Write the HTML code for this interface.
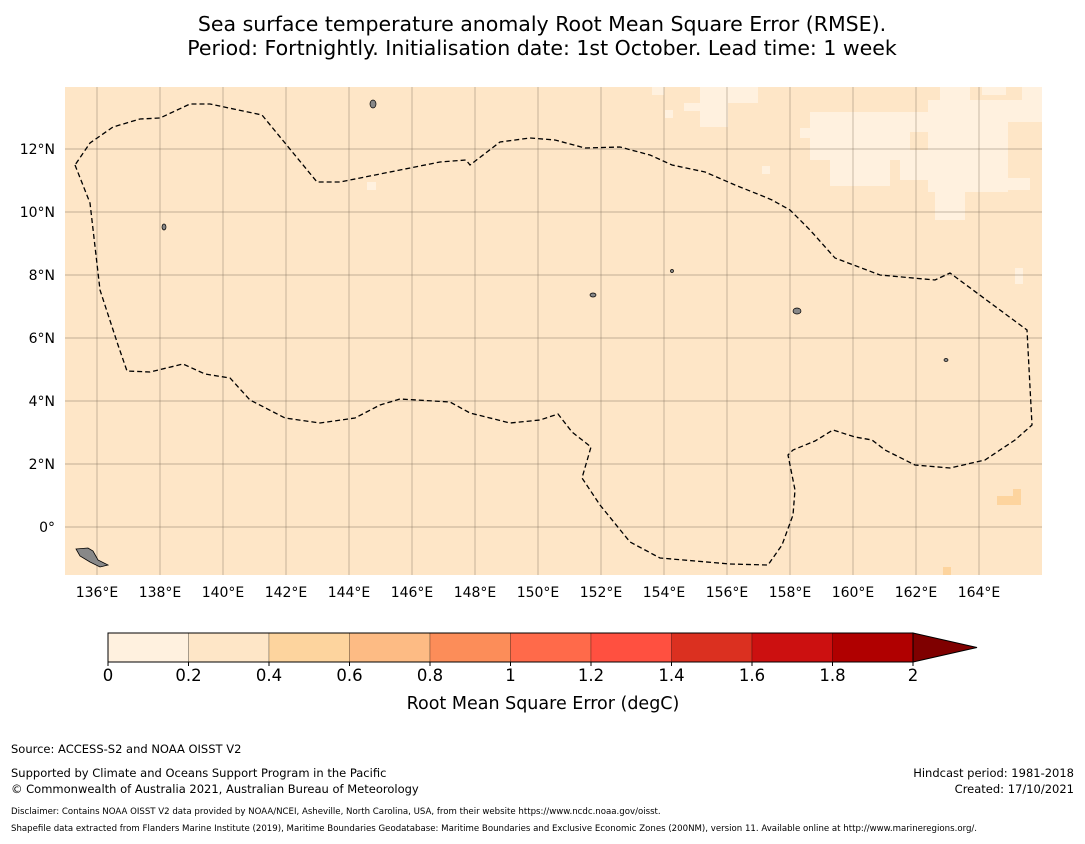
<!DOCTYPE html>
<html><head><meta charset="utf-8"><style>
body{margin:0;background:#fff;font-family:"Liberation Sans","DejaVu Sans",sans-serif}
</style></head><body>
<svg id="c" width="1085" height="839" xmlns="http://www.w3.org/2000/svg" style="font-family:'DejaVu Sans','Liberation Sans',sans-serif">
<text x="542" y="31" text-anchor="middle" font-size="20.5">Sea surface temperature anomaly Root Mean Square Error (RMSE).</text>
<text x="542" y="55" text-anchor="middle" font-size="20.5">Period: Fortnightly. Initialisation date: 1st October. Lead time: 1 week</text>
<g id="map"></g>
<g id="cbar"></g>
<text x="543" y="709" text-anchor="middle" font-size="17.5">Root Mean Square Error (degC)</text>
<g font-size="11.5">
<text x="11" y="753">Source: ACCESS-S2 and NOAA OISST V2</text>
<text x="11" y="777">Supported by Climate and Oceans Support Program in the Pacific</text>
<text x="11" y="793">© Commonwealth of Australia 2021, Australian Bureau of Meteorology</text>
<text x="1074" y="777" text-anchor="end">Hindcast period: 1981-2018</text>
<text x="1074" y="793" text-anchor="end">Created: 17/10/2021</text>
<text x="11" y="814" font-size="8.6">Disclaimer: Contains NOAA OISST V2 data provided by NOAA/NCEI, Asheville, North Carolina, USA, from their website https://www.ncdc.noaa.gov/oisst.</text>
<text x="11" y="831" font-size="8.6">Shapefile data extracted from Flanders Marine Institute (2019), Maritime Boundaries Geodatabase: Maritime Boundaries and Exclusive Economic Zones (200NM), version 11. Available online at http://www.marineregions.org/.</text>
</g>
</svg>
<script>
const lonTicks=[136,138,140,142,144,146,148,150,152,154,156,158,160,162,164];
const latTicks=[0,2,4,6,8,10,12];
const cbarBounds=[0,0.2,0.4,0.6,0.8,1,1.2,1.4,1.6,1.8,2];
const cbarColors=["#fff1df","#fee6c7","#fdd49e","#fdbb84","#fc8d59","#ff6a4a","#ff5040","#db3020","#cc1010","#b00000"];
const cbarLabels=["0","0.2","0.4","0.6","0.8","1","1.2","1.4","1.6","1.8","2"];
const eezX=[75,90,100,118,127,150,183,205,230,250,285,320,355,380,400,450,470,510,540,558,572,591,582,600,630,660,730,768,782,793,795,788,793,815,833,855,872,885,915,950,985,1015,1032,1027,950,935,880,835,810,790,772,765,735,705,672,650,620,585,555,530,500,470,466,440,340,317,262,210,190,160,140,113,90,75];
const eezY=[165,203,290,345,371,372,364,374,378,400,418,423,418,405,399,402,413,423,420,414,432,447,478,505,542,558,564,565,545,515,490,455,450,441,430,437,440,450,465,468,460,440,425,330,273,280,275,258,230,210,200,197,185,172,165,155,147,148,140,138,142,165,160,162,182,182,115,104,104,118,119,127,143,165];
const eezLon=eezX.map(x=>136+(x-97)/31.5), eezLat=eezY.map(y=>(527-y)/31.5);
const X0=65,X1=1042,Y0=87,Y1=575;
const lon=v=>97+(v-136)*31.5, lat=v=>527-v*31.5;
const NS="http://www.w3.org/2000/svg";
function mk(t,a,p){const e=document.createElementNS(NS,t);for(const k in a)e.setAttribute(k,a[k]);p.appendChild(e);return e;}
const map=document.getElementById('map');
const bg=mk('rect',{x:X0,y:Y0,width:X1-X0,height:Y1-Y0,fill:"#fee6c7"},map);


const patches=[[652,87,12,8],[684,103,16,8],[700,87,58,16],[700,103,28,24],[810,112,100,48],[800,128,20,10],[830,160,60,26],[910,112,22,20],[928,100,114,22],[928,122,80,70],[940,87,30,14],[982,87,24,8],[1022,87,20,22],[995,178,35,12],[935,192,30,28],[900,150,30,30],[762,166,8,8],[367,182,9,8],[1015,268,8,16],[665,110,8,8]];
patches.forEach(p=>{const r=mk('rect',{x:p[0],y:p[1],width:p[2],height:p[3],fill:"#fff1df"},map);

});
[[997,496,24,9],[1013,489,8,8],[943,567,8,8]].forEach(p=>{const r=mk('rect',{x:p[0],y:p[1],width:p[2],height:p[3],fill:"#fdd49e"},map);

});
lonTicks.forEach(v=>{const l=mk('line',{x1:lon(v),x2:lon(v),y1:Y0,y2:Y1,stroke:"#7a6a5a","stroke-width":0.7,"stroke-opacity":0.6},map);


const t=mk('text',{x:lon(v),y:597,"text-anchor":"middle","font-size":14},map);t.textContent=v+"°E";

});
latTicks.forEach(v=>{const l=mk('line',{x1:X0,x2:X1,y1:lat(v),y2:lat(v),stroke:"#7a6a5a","stroke-width":0.7,"stroke-opacity":0.6},map);


const t=mk('text',{x:55,y:lat(v)+5,"text-anchor":"end","font-size":14},map);t.textContent=v===0?"0°":v+"°N";

});
[[373,104,3,4],[164,227,2,3],[593,295,3,2],[797,311,4,3],[946,360,2,1.5],[672,271,1.5,1.5]].forEach(p=>{const e=mk('ellipse',{cx:p[0],cy:p[1],rx:p[2],ry:p[3],fill:"#888",stroke:"#000","stroke-width":0.7},map);

});
const guam=mk('polygon',{points:"76,549 88,548 93,551 98,560 108,565 100,567 90,562 80,556",fill:"#888",stroke:"#000","stroke-width":0.8},map);


const eez=mk('polyline',{points:eezLon.map((v,i)=>lon(v)+","+lat(eezLat[i])).join(" "),fill:"none",stroke:"#000","stroke-width":1.3,"stroke-dasharray":"5,3"},map);


const cb=document.getElementById('cbar');
const cx=v=>108+v*402.5, CY=633, CH=29;
cbarColors.forEach((c,i)=>{const r=mk('rect',{x:cx(cbarBounds[i]),y:CY,width:cx(cbarBounds[i+1])-cx(cbarBounds[i]),height:CH,fill:c,stroke:"rgba(0,0,0,0.25)","stroke-width":1},cb);

});
const tri=mk('polygon',{points:`${cx(2)},${CY} ${cx(2)+64},${CY+CH/2} ${cx(2)},${CY+CH}`,fill:"#7f0000",stroke:"#000","stroke-width":1},cb);


const fr=mk('rect',{x:cx(0),y:CY,width:cx(2)-cx(0),height:CH,fill:"none",stroke:"#000","stroke-width":1},cb);


cbarLabels.forEach((s,i)=>{mk('line',{x1:cx(cbarBounds[i]),x2:cx(cbarBounds[i]),y1:CY+CH,y2:CY+CH+4,stroke:"#000"},cb);
const t=mk('text',{x:cx(cbarBounds[i]),y:681,"text-anchor":"middle","font-size":16.5},cb);t.textContent=s;

});
</script>
</body></html>
